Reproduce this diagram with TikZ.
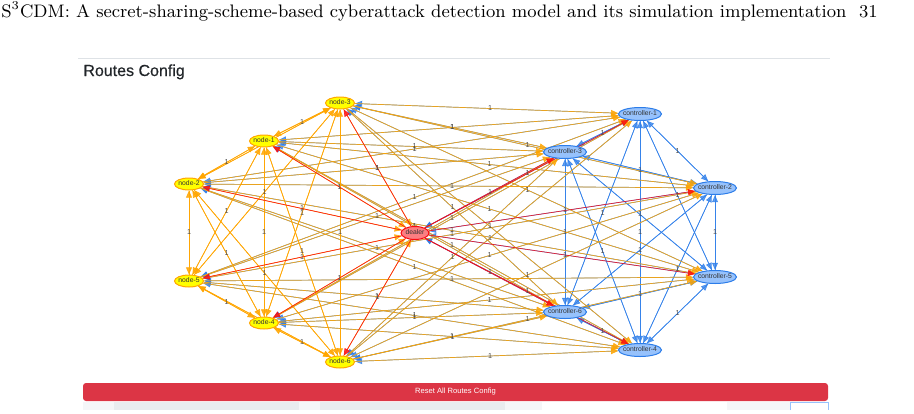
\documentclass[tikz,border=0pt]{standalone}
\usepackage{fontspec}
\usepackage{xcolor}
\usepackage{tikz}
\usetikzlibrary{arrows.meta,shapes.geometric}
\newfontfamily\visfont{Liberation Sans}
\newfontfamily\panelfont[FakeBold=0.5]{Liberation Sans}
\definecolor{nodeFill}{HTML}{FFFF00}
\definecolor{nodeLine}{HTML}{FFA500}
\definecolor{dealerFill}{HTML}{FB7E81}
\definecolor{dealerLine}{HTML}{FA0A10}
\definecolor{ctrlFill}{HTML}{97C2FC}
\definecolor{ctrlLine}{HTML}{2B7CE9}
\definecolor{btnRed}{HTML}{DC3545}
\definecolor{ruleGrey}{HTML}{DEE2E6}
\definecolor{tabGrey}{HTML}{E9ECEF}
\definecolor{tabLight}{HTML}{F5F6F8}
\definecolor{titleInk}{HTML}{212529}
\definecolor{labelInk}{HTML}{4D4D4D}
\pgfdeclarelayer{routes}
\pgfsetlayers{routes,main}
\newcommand{\peertext}[1]{\makebox[0pt]{#1}}
\tikzset{
  peer/.style 2 args={ellipse, draw=#1, fill=#2, line width=0.5pt, inner sep=0pt, font=\visfont\fontsize{3.4}{4}\selectfont, text=black!80, text height=2.4pt, text depth=0.7pt},
  hostpeer/.style={peer={nodeLine}{nodeFill}, minimum width=14.5pt, minimum height=6pt},
  dealerpeer/.style={peer={dealerLine}{dealerFill}, minimum width=14pt, minimum height=6.5pt},
  ctrlpeer/.style={peer={ctrlLine}{ctrlFill}, minimum width=21.5pt, minimum height=6.5pt},
  route/.style={-{Triangle[length=3.6pt,width=3pt]}, line width=0.35pt, draw=#1, fill=#1},
  ctrlroute/.style={route=ctrlLine, opacity=0.75},
  hostroute/.style={route=nodeLine, opacity=0.85},
  dealerroute/.style={route=dealerLine, opacity=0.8},
  weight/.style={font=\visfont\fontsize{3.6}{4}\selectfont, text=labelInk, inner sep=0.3pt},
  resetbtn/.style={rectangle, rounded corners=1.5pt, fill=btnRed, text=white, font=\visfont\fontsize{3.8}{4.5}\selectfont, minimum width=372.5pt, minimum height=9pt, inner sep=0pt},
}
\begin{document}
\begin{tikzpicture}[x=0.5pt,y=0.5pt]
  \useasboundingbox (0,0) rectangle (914,-413);

  % page head
  \node[anchor=base west, inner sep=0pt, font=\fontsize{9.05}{11}\selectfont] (runhead) at (1,-17) {S$^3$CDM: A secret-sharing-scheme-based cyberattack detection model and its simulation implementation};
  \node[anchor=base east, inner sep=0pt, font=\fontsize{9.05}{11}\selectfont] (folio) at (878,-17) {31};

  % panel title
  \draw[ruleGrey, line width=0.4pt] (78,-58) -- (830,-58);
  \node[anchor=base west, inner sep=0pt, font=\panelfont\fontsize{8}{9}\selectfont, text=titleInk] (panel) at (83,-76) {Routes Config};

  % peers
  \node[hostpeer] (n3) at (340,-103) {\peertext{node-3}};
  \node[hostpeer] (n1) at (264,-141) {\peertext{node-1}};
  \node[hostpeer] (n2) at (189,-184) {\peertext{node-2}};
  \node[hostpeer] (n5) at (189,-281) {\peertext{node-5}};
  \node[hostpeer] (n4) at (264,-323) {\peertext{node-4}};
  \node[hostpeer] (n6) at (340,-362) {\peertext{node-6}};
  \node[dealerpeer] (dl) at (415,-233) {\peertext{dealer}};
  \node[ctrlpeer] (c1) at (640,-114) {\peertext{controller-1}};
  \node[ctrlpeer] (c3) at (565,-152) {\peertext{controller-3}};
  \node[ctrlpeer] (c2) at (715,-188) {\peertext{controller-2}};
  \node[ctrlpeer] (c5) at (715,-277) {\peertext{controller-5}};
  \node[ctrlpeer] (c6) at (565,-312) {\peertext{controller-6}};
  \node[ctrlpeer] (c4) at (640,-350) {\peertext{controller-4}};

  % every peer routes to every other peer, drawn under the peers
  \def\peers{1/c1,2/c2,3/c3,4/c4,5/c5,6/c6,7/n1,8/n2,9/n3,10/n4,11/n5,12/n6,13/dl}
  \begin{pgfonlayer}{routes}
    \foreach \i/\a/\kind in {1/c1/ctrlroute,2/c2/ctrlroute,3/c3/ctrlroute,4/c4/ctrlroute,5/c5/ctrlroute,6/c6/ctrlroute,7/n1/hostroute,8/n2/hostroute,9/n3/hostroute,10/n4/hostroute,11/n5/hostroute,12/n6/hostroute,13/dl/dealerroute} {
      \foreach \j/\b in \peers {
        \ifnum\i=\j\relax\else \draw[\kind] (\a) -- (\b); \fi
      }
    }
    % weights (the n2-n3 and n5-n6 ones sit hidden under node-1 and node-4)
    \foreach \i/\a in \peers {
      \foreach \j/\b in \peers {
        \ifnum\i<\j\relax
          \ifnum\numexpr\i*100+\j\relax=809\relax\else
          \ifnum\numexpr\i*100+\j\relax=1112\relax\else
            \path (\a.center) -- (\b.center) node[midway, weight] {1};
          \fi\fi
        \fi
      }
    }
  \end{pgfonlayer}

  % reset button and table head below it
  \node[resetbtn] (reset) at (455.5,-392) {Reset All Routes Config};
  \fill[tabLight] (83,-402) rectangle (114,-410);
  \fill[tabGrey] (114,-402) rectangle (299,-410);
  \fill[tabLight] (299,-402) rectangle (320,-410);
  \fill[tabGrey] (320,-402) rectangle (505,-410);
  \fill[tabLight] (505,-402) rectangle (542,-410);
  \fill[tabLight] (727,-402) rectangle (790,-410);
  \draw[ctrlFill, line width=0.3pt] (790,-410) -- (790,-402) -- (828,-402) -- (828,-410);
\end{tikzpicture}
\end{document}
